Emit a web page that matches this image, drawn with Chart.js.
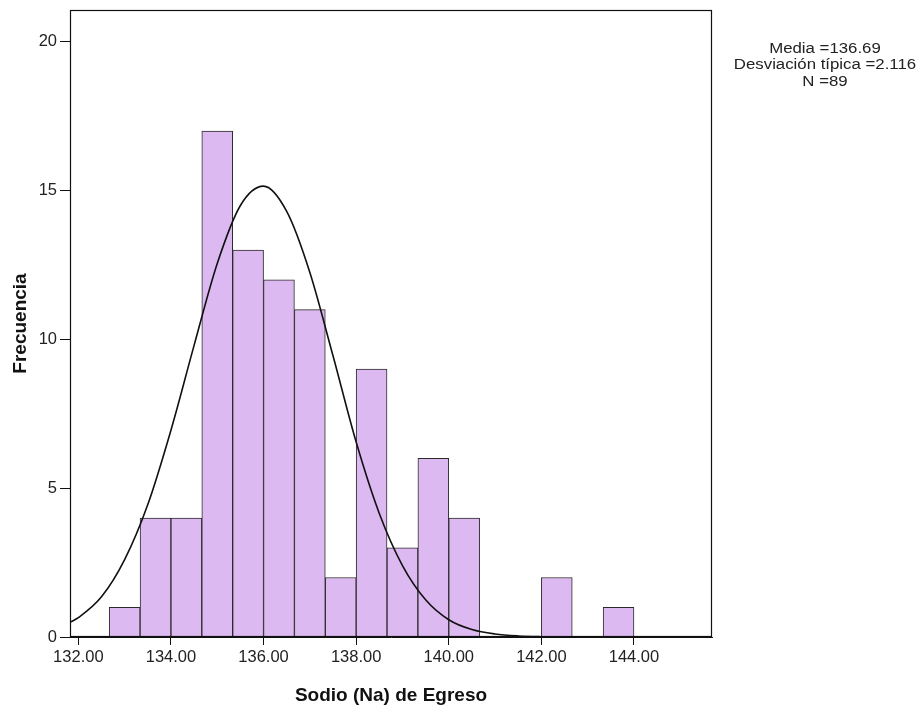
<!DOCTYPE html>
<html>
<head>
<meta charset="utf-8">
<script src="https://cdn.jsdelivr.net/npm/chart.js@4.4.1/dist/chart.umd.min.js"></script>
<style>
    html, body { margin: 0; padding: 0; background: #fff; }
    #wrap { position: relative; width: 921px; height: 707px; }
    #stats {
        position: absolute;
        left: 725px;
        top: 39.5px;
        width: 200px;
        text-align: center;
        font-family: "Liberation Sans", Arial, sans-serif;
        font-size: 14px;
        line-height: 16.5px;
        color: #222;
        transform: scaleX(1.2);
        transform-origin: center top;
        white-space: nowrap;
    }
</style>
</head>
<body>
<div id="wrap">
    <canvas id="hist" width="921" height="707"></canvas>
    <div id="stats">Media =136.69<br>Desviación típica =2.116<br>N =89</div>
</div>
<script>
// Histogram bins (centres of each 2/3-wide bin) and counts
const binCenters = [133.0000, 133.6667, 134.3333, 135.0000, 135.6667, 136.3333, 137.0000, 137.6667,
                    138.3333, 139.0000, 139.6667, 140.3333, 141.0000, 141.6667, 142.3333, 143.0000, 143.6667];
const binCounts = [1, 4, 4, 17, 13, 12, 11, 2, 9, 3, 6, 4, 0, 0, 2, 0, 1];

// Normal curve as drawn
const curveX = [131.83, 132, 132.5, 133, 133.5, 134, 134.5, 135, 135.5, 136, 136.5, 137, 137.5,
                138, 138.5, 139, 139.5, 140, 140.5, 141, 141.5, 142, 142.5, 143, 144, 145, 145.68];
const curveY = [0.5, 0.65, 1.35, 2.6, 4.45, 6.95, 9.8, 12.55, 14.5, 15.15, 14.3, 12.25, 9.45,
                6.55, 4.15, 2.4, 1.25, 0.58, 0.25, 0.1, 0.035, 0.01, 0, 0, 0, 0, 0];

// Tick labels
const xTicks = [132, 134, 136, 138, 140, 142, 144];
const yTicks = [0, 5, 10, 15, 20];

// Draws the box round the plot area
const framePlugin = {
    id: 'frame',
    afterDatasetsDraw(chart) {
        const a = chart.chartArea;
        const ctx = chart.ctx;
        ctx.save();
        ctx.strokeStyle = '#111';
        ctx.lineWidth = 1.2;
        ctx.strokeRect(a.left + 0.5, a.top + 0.5, a.right - a.left - 1, a.bottom - a.top - 1);
        ctx.restore();
    }
};

const tickFont = { family: '"Liberation Sans", Arial, sans-serif', size: 16.5 };
const titleFont = { family: '"Liberation Sans", Arial, sans-serif', size: 19, weight: 'bold' };

new Chart(document.getElementById('hist'), {
    type: 'bar',
    data: {
        datasets: [
            {
                type: 'line',
                data: curveX.map((x, i) => ({ x: x, y: curveY[i] })),
                borderColor: '#111',
                borderWidth: 1.6,
                pointRadius: 0,
                fill: false,
                cubicInterpolationMode: 'monotone',
                order: 0
            },
            {
                type: 'bar',
                data: binCenters.map((x, i) => ({ x: x, y: binCounts[i] })),
                backgroundColor: '#ddb9f1',
                borderColor: '#2b2b2b',
                borderWidth: 1,
                barPercentage: 1,
                categoryPercentage: 1,
                order: 1
            }
        ]
    },
    options: {
        responsive: false,
        animation: false,
        events: [],
        layout: { padding: { top: 10, right: 209, left: 0, bottom: 0 } },
        plugins: {
            legend: { display: false },
            tooltip: { enabled: false }
        },
        scales: {
            x: {
                type: 'linear',
                min: 131.82,
                max: 145.685,
                offset: false,
                afterFit(scale) {
                    scale.height = 70;
                    scale.paddingLeft = 0;
                    scale.paddingRight = 0;
                },
                afterBuildTicks(scale) { scale.ticks = xTicks.map(v => ({ value: v })); },
                ticks: {
                    font: tickFont,
                    color: '#222',
                    padding: 3,
                    maxRotation: 0,
                    autoSkip: false,
                    callback: v => Number(v).toFixed(2)
                },
                grid: { drawOnChartArea: false, drawTicks: true, tickLength: 8, tickColor: '#111', offset: false },
                border: { display: true, color: '#111', width: 1 },
                title: { display: true, text: 'Sodio (Na) de Egreso', font: titleFont, color: '#111', padding: { top: 8, bottom: 0 } }
            },
            y: {
                min: 0,
                max: 21.07,
                afterFit(scale) {
                    scale.width = 70;
                    scale.paddingTop = 0;
                    scale.paddingBottom = 0;
                },
                afterBuildTicks(scale) { scale.ticks = yTicks.map(v => ({ value: v })); },
                ticks: { font: tickFont, color: '#222', padding: 3 },
                grid: { drawOnChartArea: false, drawTicks: true, tickLength: 10, tickColor: '#111' },
                border: { display: true, color: '#111', width: 1 },
                title: { display: true, text: 'Frecuencia', font: titleFont, color: '#111', padding: { top: 9, bottom: 0 } }
            }
        }
    },
    plugins: [framePlugin]
});
</script>
</body>
</html>
